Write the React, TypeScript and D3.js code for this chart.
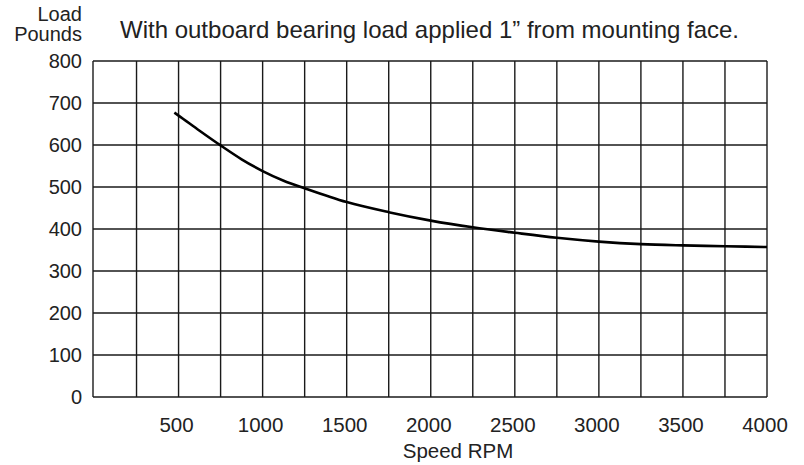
import React, { useRef, useEffect } from "react";
import * as d3 from "d3";

// Speed (RPM) vs allowable load (pounds)
const speedRpm = [475, 500, 625, 750, 875, 1000, 1125, 1250, 1500, 1750, 2000, 2250, 2500, 2750, 3000, 3250, 3500, 3750, 4000];
const loadLbs = [677, 670, 634, 599, 566, 538, 515, 497, 464, 440, 420, 404, 391, 379, 370, 364, 361, 359, 357];

const xTickLabels = [500, 1000, 1500, 2000, 2500, 3000, 3500, 4000];
const yTickLabels = [0, 100, 200, 300, 400, 500, 600, 700, 800];

const LoadChart = () => {
  const ref = useRef<SVGSVGElement | null>(null);

  useEffect(() => {
    if (!ref.current) return;
    const svg = d3.select(ref.current);
    svg.selectAll("*").remove();

    const font = "'Liberation Sans', Arial, sans-serif";
    const left = 93, right = 767, top = 61, bottom = 397;

    const x = d3.scaleLinear().domain([0, 4000]).range([left + 1.5, right]);
    const y = d3.scaleLinear().domain([0, 800]).range([bottom, top]);

    // grid
    const grid = svg.append("g").attr("stroke", "#1a1a1a").attr("stroke-width", 1.4);
    grid
      .selectAll("line.v")
      .data(d3.range(250, 4001, 250))
      .enter()
      .append("line")
      .attr("x1", (d) => x(d))
      .attr("x2", (d) => x(d))
      .attr("y1", top)
      .attr("y2", bottom);
    grid
      .append("line")
      .attr("x1", left)
      .attr("x2", left)
      .attr("y1", top)
      .attr("y2", bottom);
    grid
      .selectAll("line.h")
      .data(yTickLabels)
      .enter()
      .append("line")
      .attr("x1", left)
      .attr("x2", right)
      .attr("y1", (d) => y(d))
      .attr("y2", (d) => y(d));

    // y labels
    svg
      .append("g")
      .selectAll("text")
      .data(yTickLabels)
      .enter()
      .append("text")
      .attr("x", 82)
      .attr("y", (d) => y(d) + 2)
      .attr("text-anchor", "end")
      .attr("dominant-baseline", "middle")
      .attr("font-family", font)
      .attr("font-size", 20)
      .attr("fill", "#222")
      .text((d) => d);

    // x labels
    svg
      .append("g")
      .selectAll("text")
      .data(xTickLabels)
      .enter()
      .append("text")
      .attr("x", (d) => x(d) - 2)
      .attr("y", 432)
      .attr("text-anchor", "middle")
      .attr("font-family", font)
      .attr("font-size", 20.5)
      .attr("fill", "#222")
      .text((d) => d);

    svg
      .append("text")
      .attr("x", 458)
      .attr("y", 458)
      .attr("text-anchor", "middle")
      .attr("font-family", font)
      .attr("font-size", 20.5)
      .attr("fill", "#222")
      .text("Speed RPM");

    svg
      .append("text")
      .attr("x", 82)
      .attr("y", 20.5)
      .attr("text-anchor", "end")
      .attr("font-family", font)
      .attr("font-size", 20)
      .attr("fill", "#222")
      .text("Load");
    svg
      .append("text")
      .attr("x", 82)
      .attr("y", 40.5)
      .attr("text-anchor", "end")
      .attr("font-family", font)
      .attr("font-size", 20)
      .attr("fill", "#222")
      .text("Pounds");

    svg
      .append("text")
      .attr("x", 120)
      .attr("y", 38)
      .attr("font-family", font)
      .attr("font-size", 24)
      .attr("fill", "#222")
      .text("With outboard bearing load applied 1\u201D from mounting face.");

    // curve
    const pts = speedRpm.map((s, i) => [s, loadLbs[i]] as [number, number]);
    const line = d3
      .line<[number, number]>()
      .x((d) => x(d[0]))
      .y((d) => y(d[1]))
      .curve(d3.curveMonotoneX);
    svg
      .append("path")
      .datum(pts)
      .attr("d", line)
      .attr("fill", "none")
      .attr("stroke", "#000")
      .attr("stroke-width", 2.6);
  }, []);

  return <svg ref={ref} width={804} height={465} style={{ display: "block" }} />;
};

export default function App() {
  return (
    <div style={{ position: "fixed", left: 0, top: 0, width: 804, height: 465, overflow: "hidden", background: "#fff" }}>
      <LoadChart />
    </div>
  );
}
